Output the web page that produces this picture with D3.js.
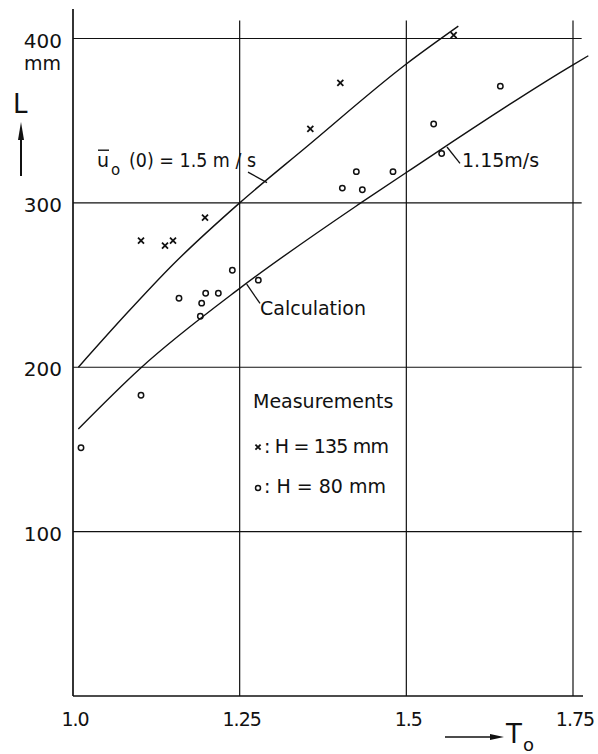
<!DOCTYPE html>
<html>
<head>
<meta charset="utf-8">
<script src="https://cdn.jsdelivr.net/npm/d3@7"></script>
<style>
  body { margin: 0; background: #fff; }
  text { font-family: "DejaVu Sans", sans-serif; fill: #111; }
</style>
</head>
<body>
<div id="chart"></div>
<script>
// tick values
var xTicks = [1.0, 1.25, 1.5, 1.75];
var xTickLabels = ['1.0', '1.25', '1.5', '1.75'];
var yTicks = [100, 200, 300, 400];
var yTickLabels = ['100', '200', '300', '400'];

// measurements, H = 135 mm (crosses)
var crossT = [1.102, 1.138, 1.150, 1.198, 1.356, 1.401, 1.571];
var crossL = [277, 274, 277, 291, 345, 373, 402];

// measurements, H = 80 mm (circles)
var circT = [1.012, 1.102, 1.159, 1.191, 1.193, 1.199, 1.218, 1.239, 1.278, 1.404, 1.425, 1.434, 1.480, 1.541, 1.553, 1.641];
var circL = [151, 183, 242, 231, 239, 245, 245, 259, 253, 309, 319, 308, 319, 348, 330, 371];

// calculation, u0(0) = 1.5 m/s
var upT = [1.008, 1.08, 1.15, 1.25, 1.35, 1.5, 1.578];
var upL = [200, 232.5, 262.5, 300, 334, 384.5, 407.5];
// calculation, u0(0) = 1.15 m/s
var lowT = [1.008, 1.10, 1.25, 1.43, 1.5, 1.75, 1.773];
var lowL = [162.5, 199, 248, 299.5, 318.5, 384, 389.5];

var width = 598, height = 754;
var svg = d3.select('#chart').append('svg')
    .attr('width', width)
    .attr('height', height);

var x = d3.scaleLinear().domain([1.0, 1.75]).range([73, 573]);
var y = d3.scaleLinear().domain([0, 400]).range([696, 38.5]);

var ink = '#111';

// grid
svg.selectAll('.hgrid')
    .data(yTicks)
    .enter().append('line')
    .attr('x1', x(1.0)).attr('x2', x(1.763))
    .attr('y1', function (d) { return y(d); })
    .attr('y2', function (d) { return y(d); })
    .attr('stroke', ink).attr('stroke-width', 1.2);
svg.selectAll('.vgrid')
    .data(xTicks.slice(1))
    .enter().append('line')
    .attr('x1', function (d) { return x(d); })
    .attr('x2', function (d) { return x(d); })
    .attr('y1', y(0)).attr('y2', y(411))
    .attr('stroke', ink).attr('stroke-width', 1.2);

// axes
svg.append('line')
    .attr('x1', x(1.0)).attr('x2', x(1.0))
    .attr('y1', y(0)).attr('y2', y(418))
    .attr('stroke', ink).attr('stroke-width', 1.7);
svg.append('line')
    .attr('x1', x(1.0)).attr('x2', x(1.765))
    .attr('y1', y(0)).attr('y2', y(0))
    .attr('stroke', ink).attr('stroke-width', 1.7);

// tick labels
svg.selectAll('.ylab')
    .data(yTicks)
    .enter().append('text')
    .attr('x', 62)
    .attr('y', function (d) { return y(d) + 9; })
    .attr('text-anchor', 'end')
    .style('font-size', '20px')
    .text(function (d, i) { return yTickLabels[i]; });
svg.selectAll('.xlab')
    .data(xTicks)
    .enter().append('text')
    .attr('x', function (d) { return x(d) + 2; })
    .attr('y', 726)
    .attr('text-anchor', 'middle')
    .style('font-size', '19px')
    .style('letter-spacing', '-1px')
    .text(function (d, i) { return xTickLabels[i]; });

svg.append('text')
    .attr('x', 61).attr('y', 70)
    .attr('text-anchor', 'end')
    .style('font-size', '19px')
    .text('mm');

// L axis title with arrow
svg.append('text')
    .attr('x', 13).attr('y', 113)
    .style('font-size', '26px')
    .text('L');
svg.append('line')
    .attr('x1', 21).attr('x2', 21)
    .attr('y1', 176).attr('y2', 135)
    .attr('stroke', ink).attr('stroke-width', 2);
svg.append('path')
    .attr('d', 'M21,122 L24,140 L18,140 Z')
    .attr('fill', ink);

// T0 axis title with arrow
svg.append('line')
    .attr('x1', 445).attr('x2', 494)
    .attr('y1', 737).attr('y2', 737)
    .attr('stroke', ink).attr('stroke-width', 1.6);
svg.append('path')
    .attr('d', 'M504,737 L490,734 L490,740 Z')
    .attr('fill', ink);
svg.append('text')
    .attr('x', 506).attr('y', 743)
    .style('font-size', '26px')
    .text('T');
svg.append('text')
    .attr('x', 523).attr('y', 751)
    .style('font-size', '18px')
    .text('o');

// curves
var line = d3.line()
    .x(function (d) { return x(d[0]); })
    .y(function (d) { return y(d[1]); })
    .curve(d3.curveMonotoneX);
svg.append('path')
    .attr('d', line(d3.zip(upT, upL)))
    .attr('fill', 'none').attr('stroke', ink).attr('stroke-width', 1.4);
svg.append('path')
    .attr('d', line(d3.zip(lowT, lowL)))
    .attr('fill', 'none').attr('stroke', ink).attr('stroke-width', 1.4);

// markers
function cross(g, cx, cy, s) {
    g.append('path')
        .attr('d', 'M' + (cx - s) + ',' + (cy - s) + 'L' + (cx + s) + ',' + (cy + s) +
            'M' + (cx - s) + ',' + (cy + s) + 'L' + (cx + s) + ',' + (cy - s))
        .attr('stroke', ink).attr('stroke-width', 1.8);
}
crossT.forEach(function (t, i) { cross(svg, x(t), y(crossL[i]), 3); });
svg.selectAll('.circ')
    .data(d3.zip(circT, circL))
    .enter().append('circle')
    .attr('cx', function (d) { return x(d[0]); })
    .attr('cy', function (d) { return y(d[1]); })
    .attr('r', 2.7)
    .attr('fill', 'none').attr('stroke', ink).attr('stroke-width', 1.5);

// annotations
function leader(t1, l1, t2, l2) {
    svg.append('line')
        .attr('x1', x(t1)).attr('y1', y(l1))
        .attr('x2', x(t2)).attr('y2', y(l2))
        .attr('stroke', ink).attr('stroke-width', 1.3);
}
var ux = x(1.036), uy = y(321.7);
svg.append('text')
    .attr('x', ux).attr('y', uy)
    .style('font-size', '19px')
    .text('u');
svg.append('text')
    .attr('x', ux + 14).attr('y', uy + 8)
    .style('font-size', '15px')
    .text('o');
svg.append('text')
    .attr('x', ux + 32).attr('y', uy)
    .attr('textLength', 127)
    .attr('lengthAdjust', 'spacingAndGlyphs')
    .style('font-size', '19px')
    .text('(0) = 1.5 m / s');
svg.append('line')
    .attr('x1', ux + 1).attr('x2', ux + 12)
    .attr('y1', uy - 17).attr('y2', uy - 17)
    .attr('stroke', ink).attr('stroke-width', 1.4);
leader(1.2625, 318.7, 1.291, 312.3);

svg.append('text')
    .attr('x', x(1.5835)).attr('y', y(321.9))
    .style('font-size', '19px')
    .text('1.15m/s');
leader(1.561, 334, 1.5805, 324);

svg.append('text')
    .attr('x', x(1.2805)).attr('y', y(231.7))
    .style('font-size', '19px')
    .text('Calculation');
leader(1.2605, 250.5, 1.2805, 238.8);

svg.append('text')
    .attr('x', x(1.27)).attr('y', y(175.2))
    .style('font-size', '19px')
    .text('Measurements');
cross(svg, x(1.2775), y(151.4), 2.6);
svg.append('text')
    .attr('x', x(1.2865)).attr('y', y(147.8))
    .attr('textLength', 125)
    .attr('lengthAdjust', 'spacing')
    .style('font-size', '19px')
    .text(': H = 135 mm');
svg.append('circle')
    .attr('cx', x(1.2775)).attr('cy', y(126.5))
    .attr('r', 2.5)
    .attr('fill', 'none').attr('stroke', ink).attr('stroke-width', 1.5);
svg.append('text')
    .attr('x', x(1.2865)).attr('y', y(123.5))
    .style('font-size', '19px')
    .text(': H = 80 mm');
</script>
</body>
</html>
